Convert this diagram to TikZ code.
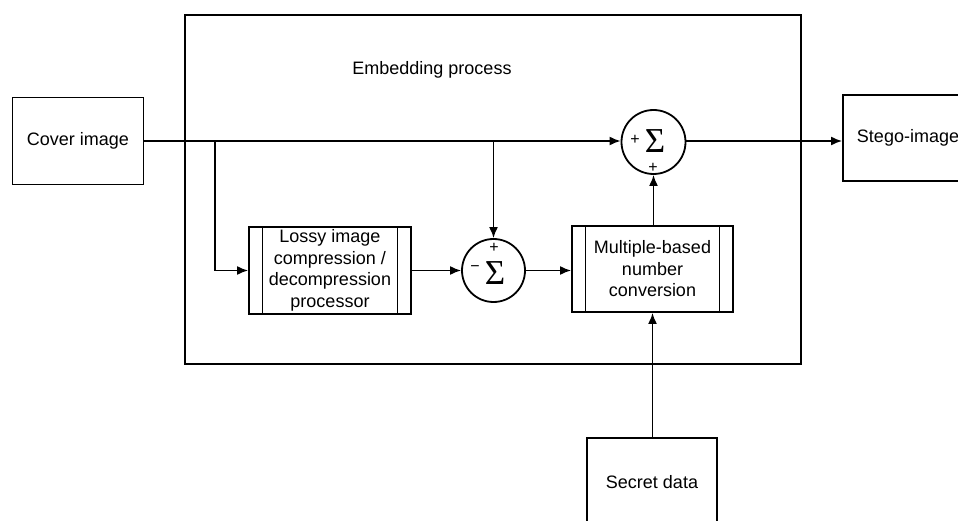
\documentclass[tikz,border=0pt]{standalone}
\usepackage{fontspec}
\setmainfont{Liberation Sans}
\newfontfamily\sigmafont{Liberation Serif}
\usetikzlibrary{arrows.meta}
\begin{document}
\begin{tikzpicture}[x=1pt,y=-1pt,
  every node/.style={font=\fontsize{18}{21.5}\selectfont},
  box/.style={draw,line width=1.8pt,inner sep=0pt},
  procbox/.style={box,align=center,
    path picture={
      \draw[line width=1.8pt] ([xshift=13.5pt]path picture bounding box.north west) -- ([xshift=13.5pt]path picture bounding box.south west);
      \draw[line width=1.8pt] ([xshift=-13.5pt]path picture bounding box.north east) -- ([xshift=-13.5pt]path picture bounding box.south east);
    }},
  sumc/.style={draw,circle,line width=1.8pt,minimum size=63pt,inner sep=0pt},
  sig/.style={font=\sigmafont\fontsize{35}{35}\selectfont,inner sep=0pt},
  sgn/.style={font=\fontsize{16}{16}\selectfont,inner sep=0pt},
  arr/.style={line width=1.8pt,-{Latex[length=11pt,width=9pt]}},
  ln/.style={line width=1.8pt}]
\useasboundingbox (0,0) rectangle (958,521);
\clip (0,0) rectangle (958,521);
% embedding process frame
\node[box,minimum width=616pt,minimum height=349pt] (embed) at (492.7,189.5) {};
\node (title) at (432,70) {Embedding process};
% outer boxes
\node[box,minimum width=131pt,minimum height=87pt] (cover) at (78,141) {Cover image};
\node[box,minimum width=130pt,minimum height=86pt] (stego) at (908,138) {Stego-image};
\node[box,minimum width=130pt,minimum height=100pt] (secret) at (652,488) {};
\node (secrettxt) at (652,482) {Secret data};
% process boxes
\node[procbox,minimum width=162pt,minimum height=87pt] (lossy) at (330,270.5)
  {Lossy image\\compression /\\decompression\\processor};
\node[procbox,minimum width=161pt,minimum height=86pt] (mult) at (652.5,269)
  {Multiple-based\\number\\conversion};
% summation circles
\node[sumc] (sum1) at (493.5,270.5) {};
\node[sig] (sig1) at (495,273) {Σ};
\node[sgn] (p1) at (494,248) {+};
\node[sgn] (m1) at (475,269) {−};
\node[sumc,minimum size=64pt] (sum2) at (653.5,142) {};
\node[sig] (sig2) at (655,141) {Σ};
\node[sgn] (p2) at (635,140) {+};
\node[sgn] (p3) at (653,167.5) {+};
% connectors
\coordinate (b1) at (215,141);
\coordinate (b2) at (493.5,141);
\draw[arr] (cover.east) -- (sum2.west |- cover.east);
\draw[arr] (b1) |- (lossy.west);
\draw[arr] (b2) -- (sum1.north);
\draw[arr] (lossy.east) -- (sum1.west);
\draw[arr] (sum1.east) -- (mult.west |- sum1.east);
\draw[arr] (mult.north -| sum2.south) -- (sum2.south);
\draw[arr] (secret.north -| mult.south) -- (mult.south);
\draw[arr] (sum2.east |- cover.east) -- (stego.west |- cover.east);
\end{tikzpicture}
\end{document}
